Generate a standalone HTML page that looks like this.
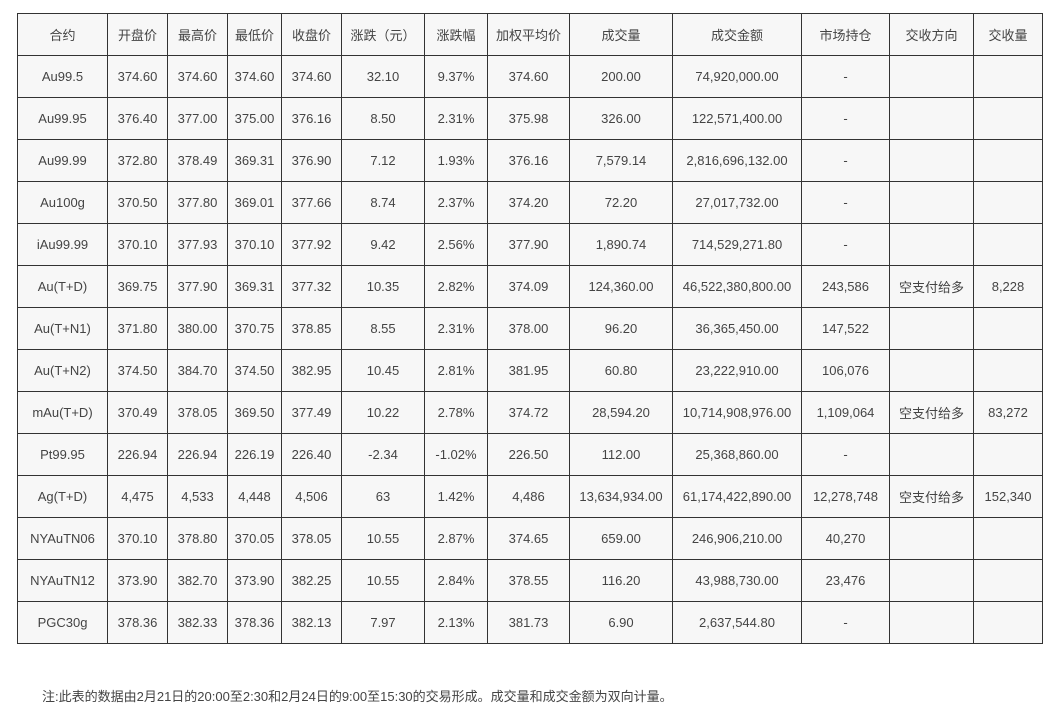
<!DOCTYPE html>
<html><head><meta charset="utf-8"><style>
body{margin:0;background:#fff;width:1062px;height:723px;overflow:hidden;font-family:"Liberation Sans","Noto Sans CJK SC",sans-serif;}
table{position:absolute;left:17px;top:13px;border-collapse:collapse;table-layout:fixed;width:1025px;}
td{border:1px solid #333;background:#f7f7f7;height:42px;padding:0;text-align:center;font-size:13px;color:#444;box-sizing:border-box;}
.n{position:absolute;left:42px;top:686px;font-size:13px;color:#444;}
</style></head><body>
<table>
<colgroup><col style="width:90px"><col style="width:60px"><col style="width:60px"><col style="width:54px"><col style="width:60px"><col style="width:83px"><col style="width:63px"><col style="width:82px"><col style="width:103px"><col style="width:129px"><col style="width:88px"><col style="width:84px"><col style="width:69px"></colgroup>
<tr><td>合约</td><td>开盘价</td><td>最高价</td><td>最低价</td><td>收盘价</td><td>涨跌（元）</td><td>涨跌幅</td><td>加权平均价</td><td>成交量</td><td>成交金额</td><td>市场持仓</td><td>交收方向</td><td>交收量</td></tr>
<tr><td>Au99.5</td><td>374.60</td><td>374.60</td><td>374.60</td><td>374.60</td><td>32.10</td><td>9.37%</td><td>374.60</td><td>200.00</td><td>74,920,000.00</td><td>-</td><td></td><td></td></tr>
<tr><td>Au99.95</td><td>376.40</td><td>377.00</td><td>375.00</td><td>376.16</td><td>8.50</td><td>2.31%</td><td>375.98</td><td>326.00</td><td>122,571,400.00</td><td>-</td><td></td><td></td></tr>
<tr><td>Au99.99</td><td>372.80</td><td>378.49</td><td>369.31</td><td>376.90</td><td>7.12</td><td>1.93%</td><td>376.16</td><td>7,579.14</td><td>2,816,696,132.00</td><td>-</td><td></td><td></td></tr>
<tr><td>Au100g</td><td>370.50</td><td>377.80</td><td>369.01</td><td>377.66</td><td>8.74</td><td>2.37%</td><td>374.20</td><td>72.20</td><td>27,017,732.00</td><td>-</td><td></td><td></td></tr>
<tr><td>iAu99.99</td><td>370.10</td><td>377.93</td><td>370.10</td><td>377.92</td><td>9.42</td><td>2.56%</td><td>377.90</td><td>1,890.74</td><td>714,529,271.80</td><td>-</td><td></td><td></td></tr>
<tr><td>Au(T+D)</td><td>369.75</td><td>377.90</td><td>369.31</td><td>377.32</td><td>10.35</td><td>2.82%</td><td>374.09</td><td>124,360.00</td><td>46,522,380,800.00</td><td>243,586</td><td>空支付给多</td><td>8,228</td></tr>
<tr><td>Au(T+N1)</td><td>371.80</td><td>380.00</td><td>370.75</td><td>378.85</td><td>8.55</td><td>2.31%</td><td>378.00</td><td>96.20</td><td>36,365,450.00</td><td>147,522</td><td></td><td></td></tr>
<tr><td>Au(T+N2)</td><td>374.50</td><td>384.70</td><td>374.50</td><td>382.95</td><td>10.45</td><td>2.81%</td><td>381.95</td><td>60.80</td><td>23,222,910.00</td><td>106,076</td><td></td><td></td></tr>
<tr><td>mAu(T+D)</td><td>370.49</td><td>378.05</td><td>369.50</td><td>377.49</td><td>10.22</td><td>2.78%</td><td>374.72</td><td>28,594.20</td><td>10,714,908,976.00</td><td>1,109,064</td><td>空支付给多</td><td>83,272</td></tr>
<tr><td>Pt99.95</td><td>226.94</td><td>226.94</td><td>226.19</td><td>226.40</td><td>-2.34</td><td>-1.02%</td><td>226.50</td><td>112.00</td><td>25,368,860.00</td><td>-</td><td></td><td></td></tr>
<tr><td>Ag(T+D)</td><td>4,475</td><td>4,533</td><td>4,448</td><td>4,506</td><td>63</td><td>1.42%</td><td>4,486</td><td>13,634,934.00</td><td>61,174,422,890.00</td><td>12,278,748</td><td>空支付给多</td><td>152,340</td></tr>
<tr><td>NYAuTN06</td><td>370.10</td><td>378.80</td><td>370.05</td><td>378.05</td><td>10.55</td><td>2.87%</td><td>374.65</td><td>659.00</td><td>246,906,210.00</td><td>40,270</td><td></td><td></td></tr>
<tr><td>NYAuTN12</td><td>373.90</td><td>382.70</td><td>373.90</td><td>382.25</td><td>10.55</td><td>2.84%</td><td>378.55</td><td>116.20</td><td>43,988,730.00</td><td>23,476</td><td></td><td></td></tr>
<tr><td>PGC30g</td><td>378.36</td><td>382.33</td><td>378.36</td><td>382.13</td><td>7.97</td><td>2.13%</td><td>381.73</td><td>6.90</td><td>2,637,544.80</td><td>-</td><td></td><td></td></tr>
</table>
<div class="n">注:此表的数据由2月21日的20:00至2:30和2月24日的9:00至15:30的交易形成。成交量和成交金额为双向计量。</div>
</body></html>
